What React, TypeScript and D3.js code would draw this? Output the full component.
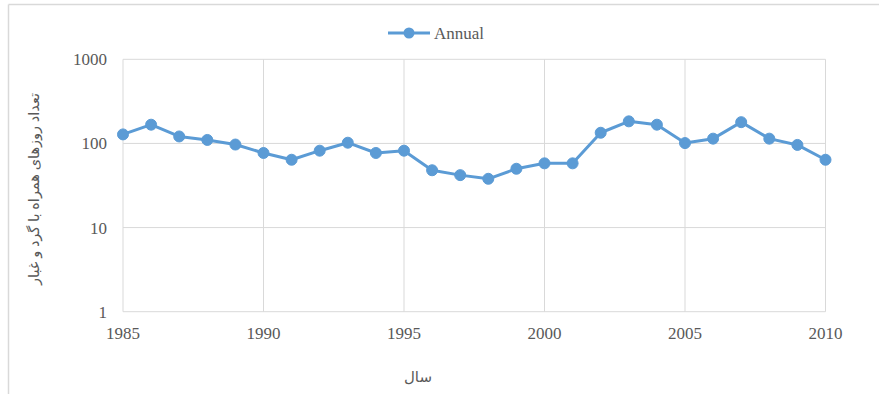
import React from "react";
import * as d3 from "d3";

const years = [1985, 1986, 1987, 1988, 1989, 1990, 1991, 1992, 1993, 1994, 1995, 1996, 1997, 1998, 1999, 2000, 2001, 2002, 2003, 2004, 2005, 2006, 2007, 2008, 2009, 2010];
const annual = [128, 167, 121, 110, 97, 77, 64, 82, 102, 77, 82, 48, 42, 38, 50, 58, 58, 134, 183, 167, 101, 114, 179, 114, 96, 64];
const xTicks = [1985, 1990, 1995, 2000, 2005, 2010];
const yTicks = [1, 10, 100, 1000];
const seriesName = "Annual";
const yTitle = "تعداد روزهای همراه با گرد و غبار";
const xTitle = "سال";

const W = 879;
const H = 394;
const left = 123;
const right = 825.5;
const top = 59.3;
const bottom = 311.7;
const blue = "#5b9bd5";
const grid = "#d9d9d9";
const textColor = "#595959";
const serif = "'Liberation Serif', 'Times New Roman', serif";
const sans = "'Noto Sans', 'DejaVu Sans', sans-serif";

export default function App() {
  const x = d3.scaleLinear().domain([1985, 2010]).range([left, right]);
  const y = d3.scaleLog().domain([1, 1000]).range([bottom, top]);
  const line = d3
    .line<number>()
    .x((_, i) => x(years[i]))
    .y((d) => y(d));

  return (
    <svg
      width={W}
      height={H}
      style={{ position: "absolute", left: 0, top: 0, background: "#fff" }}
    >
      {/* chart frame */}
      <line x1={8.5} y1={4.5} x2={W} y2={4.5} stroke={grid} strokeWidth={1.5} />
      <line x1={8.5} y1={4.5} x2={8.5} y2={H} stroke={grid} strokeWidth={1.5} />

      {/* gridlines */}
      {yTicks.map((t) => (
        <line key={"gy" + t} x1={left} x2={right} y1={y(t)} y2={y(t)} stroke={grid} strokeWidth={1} />
      ))}
      {xTicks.map((t) => (
        <line key={"gx" + t} x1={x(t)} x2={x(t)} y1={top} y2={bottom} stroke={grid} strokeWidth={1} />
      ))}

      {/* y tick labels */}
      {yTicks.map((t) => (
        <text
          key={"ty" + t}
          x={107}
          y={y(t)}
          dy="0.35em"
          textAnchor="end"
          fontFamily={serif}
          fontSize={17}
          fill={textColor}
        >
          {t}
        </text>
      ))}

      {/* x tick labels */}
      {xTicks.map((t) => (
        <text
          key={"tx" + t}
          x={x(t)}
          y={333}
          dy="0.35em"
          textAnchor="middle"
          fontFamily={serif}
          fontSize={17}
          fill={textColor}
        >
          {t}
        </text>
      ))}

      {/* axis titles */}
      <text
        transform={`translate(34, 189) rotate(-90)`}
        textAnchor="middle"
        dy="0.35em"
        fontFamily={sans}
        fontSize={14.5}
        fill={textColor}
        direction="rtl"
      >
        {yTitle}
      </text>
      <text
        x={418}
        y={377}
        dy="0.35em"
        textAnchor="middle"
        fontFamily={sans}
        fontSize={15}
        fill={textColor}
        direction="rtl"
      >
        {xTitle}
      </text>

      {/* series */}
      <path d={line(annual) ?? ""} fill="none" stroke={blue} strokeWidth={3} strokeLinejoin="round" />
      {annual.map((v, i) => (
        <circle key={"p" + i} cx={x(years[i])} cy={y(v)} r={5.5} fill={blue} stroke={blue} strokeWidth={1} />
      ))}

      {/* legend */}
      <line x1={388} x2={430} y1={33} y2={33} stroke={blue} strokeWidth={3} />
      <circle cx={409} cy={33} r={5.5} fill={blue} />
      <text x={434} y={33} dy="0.35em" fontFamily={serif} fontSize={17} fill={textColor}>
        {seriesName}
      </text>
    </svg>
  );
}
